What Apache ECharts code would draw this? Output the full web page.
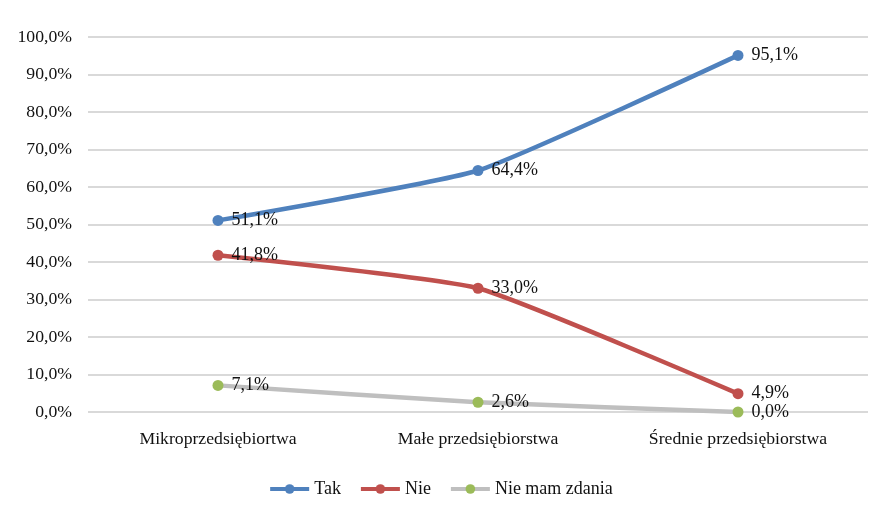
<!DOCTYPE html>
<html>
<head>
<meta charset="utf-8">
<script src="https://cdn.jsdelivr.net/npm/echarts@6/dist/echarts.min.js"></script>
<style>
  html, body { margin: 0; padding: 0; background: #fff; }
  #chart { width: 881px; height: 516px; }
</style>
</head>
<body>
<div id="chart"></div>
<script>
// Kategorie przedsiębiorstw
const categories = ['Mikroprzedsiębiortwa', 'Małe przedsiębiorstwa', 'Średnie przedsiębiorstwa'];

// Odpowiedzi (%)
const tak = [51.1, 64.4, 95.1];
const nie = [41.8, 33.0, 4.9];
const nieMamZdania = [7.1, 2.6, 0.0];

const fmt = v => v.toFixed(1).replace('.', ',') + '%';
const font = 'Liberation Serif';
const textColor = '#111';

function makeSeries(name, data, lineColor, markColor) {
  return {
    name: name,
    type: 'line',
    data: data,
    smooth: 0.15,
    symbol: 'circle',
    symbolSize: 11,
    lineStyle: { color: lineColor, width: 4.5 },
    itemStyle: { color: markColor },
    label: {
      show: true,
      position: 'right',
      distance: 8,
      formatter: p => fmt(p.value),
      fontFamily: font,
      fontSize: 18,
      color: textColor
    },
    emphasis: { disabled: true }
  };
}

const chart = echarts.init(document.getElementById('chart'));
chart.setOption({
  animation: false,
  grid: { left: 88, right: 13, top: 37, bottom: 104 },
  legend: {
    bottom: 13,
    left: 'center',
    itemWidth: 39,
    itemHeight: 12,
    itemGap: 18,
    lineStyle: { width: 4 },
    textStyle: { fontFamily: font, fontSize: 18, color: textColor },
    data: ['Tak', 'Nie', 'Nie mam zdania']
  },
  xAxis: {
    type: 'category',
    data: categories,
    boundaryGap: true,
    axisLine: { show: false },
    axisTick: { show: false },
    axisLabel: { fontFamily: font, fontSize: 17.7, color: textColor, margin: 18 }
  },
  yAxis: {
    type: 'value',
    min: 0,
    max: 100,
    interval: 10,
    axisLine: { show: false },
    axisTick: { show: false },
    axisLabel: { formatter: v => fmt(v), fontFamily: font, fontSize: 17.7, color: textColor, margin: 16 },
    splitLine: { lineStyle: { color: '#d9d9d9', width: 2 } }
  },
  series: [
    makeSeries('Tak', tak, '#4F81BD', '#4F81BD'),
    makeSeries('Nie', nie, '#C0504D', '#C0504D'),
    makeSeries('Nie mam zdania', nieMamZdania, '#BFBFBF', '#9BBB59')
  ]
});
</script>
</body>
</html>
